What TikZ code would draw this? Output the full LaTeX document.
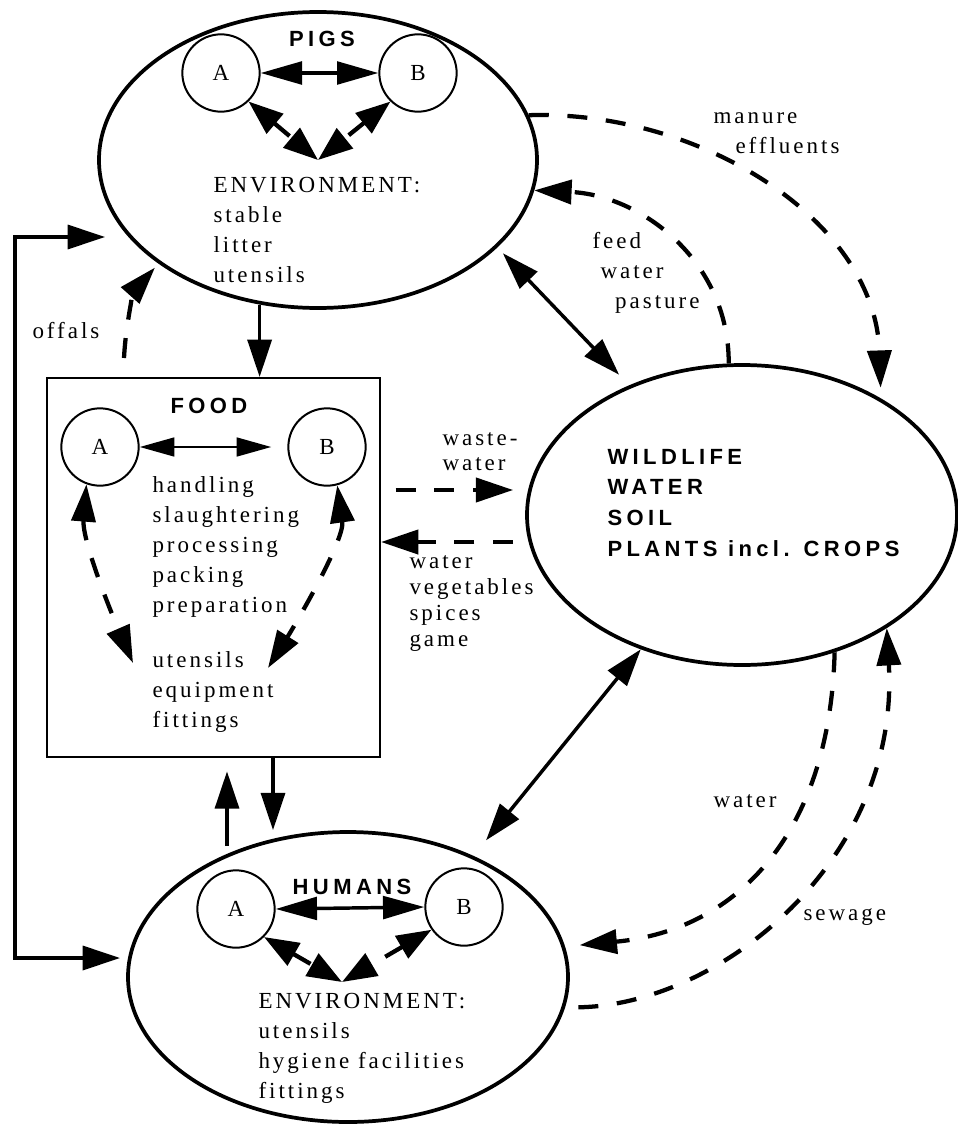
\documentclass[tikz,border=0pt]{standalone}
\usepackage{fontspec}
\setmainfont{Liberation Serif}
\newfontfamily\labfont[LetterSpace=13]{Liberation Serif}
\newfontfamily\headfont[LetterSpace=20]{Liberation Sans}
\usetikzlibrary{arrows.meta,shapes.geometric}

\tikzset{every picture/.style={line width=0.75pt},
  >={Triangle[length=28pt,width=18pt]},
  blobnode/.style={draw, ellipse, line width=2.8pt, inner sep=0pt},
  ringnode/.style={draw, circle, line width=1.5pt, minimum size=58pt, inner sep=0pt, font=\fontsize{17.25}{20}\selectfont},
  solidarr/.style={line width=2.6pt},
  dasharr/.style={line width=3.2pt, dash pattern=on 15pt off 14pt},
  innerarr/.style={dasharr, {Triangle[length=26pt,width=19pt]}-{Triangle[length=26pt,width=19pt]}},
  pairarr/.style={line width=2.6pt, {Triangle[length=31pt,width=17pt]}-{Triangle[length=31pt,width=17pt]}},
  labtext/.style={font=\labfont\fontsize{17.25}{22.5}\selectfont, inner sep=0pt, align=left, anchor=base west},
  headtext/.style={font=\headfont\bfseries\fontsize{16.5}{22.9}\selectfont, inner sep=0pt, align=left}
}

\begin{document}
\begin{tikzpicture}[x=0.75pt,y=0.75pt,yscale=-1,xscale=1]
\useasboundingbox (0,0) rectangle (957,1124);

%Shape: Ellipse [id:pigs]
\node[blobnode, minimum width=328.5pt, minimum height=222pt] (pigs) at (318,160) {};
%Shape: Circle [id:pa]
\node[ringnode] (pa) at (221,73) {A};
%Shape: Circle [id:pb]
\node[ringnode] (pb) at (418,73) {B};
% Text Node
\node[headtext] (pigst) at (322,39) {PIGS};
% Text Node (base = last line)
\node[labtext] (pigsenv) at (213,282) {ENVIRONMENT:\\stable\\litter\\utensils};

%Shape: Rectangle [id:food]
\node[draw, line width=1.5pt, minimum width=249.75pt, minimum height=284.25pt, inner sep=0pt] (food) at (213.5,567.5) {};
%Shape: Circle [id:fa]
\node[ringnode] (fa) at (100,447) {A};
%Shape: Circle [id:fb]
\node[ringnode] (fb) at (327,447) {B};
% Text Node
\node[headtext] (foodt) at (209,406) {FOOD};
% Text Node
\node[labtext] (steps) at (152,612) {handling\\slaughtering\\processing\\packing\\preparation};
% Text Node
\node[labtext] (tools) at (152,727) {utensils\\equipment\\fittings};

%Shape: Ellipse [id:wild]
\node[blobnode, minimum width=322.5pt, minimum height=225pt] (wild) at (742,515) {};
% Text Node
\node[headtext, anchor=base west] (wildt) at (607,556) {WILDLIFE\\WATER\\SOIL\\PLANTS incl. CROPS};

%Shape: Ellipse [id:hum]
\node[blobnode, minimum width=330pt, minimum height=217.5pt] (hum) at (348,977) {};
%Shape: Circle [id:ha]
\node[ringnode] (ha) at (236,909) {A};
%Shape: Circle [id:hb]
\node[ringnode] (hb) at (464,907) {B};
% Text Node
\node[headtext] (humt) at (352,887) {HUMANS};
% Text Node
\node[labtext] (humenv) at (258,1098) {ENVIRONMENT:\\utensils\\hygiene facilities\\fittings};

% Text Node
\node[labtext] (offals) at (32,338) {offals};
% Text Node
\node[labtext] (waste) at (442,470) {waste-\\[-4pt]water};
% Text Node
\node[labtext] (veg) at (409,646) {water\\[-3pt]vegetables\\[-3pt]spices\\[-3pt]game};
% Text Node
\node[labtext] (feed) at (592,308) {feed\\\hspace*{6pt}water\\\hspace*{17pt}pasture};
% Text Node
\node[labtext] (manure) at (713,153) {manure\\\hspace*{16.5pt}effluents};
% Text Node
\node[labtext] (waterl) at (713,807) {water};
% Text Node
\node[labtext] (sewage) at (803,920) {sewage};

% free ends
\coordinate (penv) at (318,160);
\coordinate (henv) at (342,982);
\coordinate (offal) at (124,358);
\coordinate (pigin) at (105,237);
\coordinate (humin) at (120,958);
\coordinate (loopx) at (15,600);
\coordinate (fu1) at (133,663);
\coordinate (fu2) at (268,668);
\coordinate (ww) at (395,490);
\coordinate (wv) at (515,542);
\coordinate (fd) at (273,800);
\coordinate (hu) at (227,846);

%Inside pigs
\draw[pairarr] (pa.east) -- (pb.west);
\draw[innerarr] (pa.-46) -- (penv);
\draw[innerarr] (pb.-134) -- (penv);

%Inside food
\draw[line width=2pt, {Triangle[length=26pt,width=14pt]}-{Triangle[length=26pt,width=14pt]}, shorten >=12pt] (fa.east) -- (fb.west);
\draw[dasharr, <->] (fa.-110) .. controls (82,540) and (110,610) .. (fu1);
\draw[dasharr, <->] (fb.-75) .. controls (345,540) and (295,625) .. (fu2);

%Inside humans
\draw[pairarr] (ha.east) -- (hb.west);
\draw[innerarr] (ha.-45) -- (henv);
\draw[innerarr] (hb.-145) -- (henv);

%Between the groups
\draw[solidarr, <->] (pigin) -| (loopx) |- (humin);
\draw[dasharr, ->, shorten >=4pt] (offal) .. controls (126,320) and (135,290) .. (pigs.-147);
\draw[solidarr, ->] (pigs.-112) -- (pigs.-112 |- food.north);
\draw[solidarr, ->] (food.south -| fd) -- (hum.north -| fd);
\draw[solidarr, ->, shorten >=10pt] (hu) -- (hu |- food.south);
\draw[dasharr, ->, shorten <=11pt, shorten >=9pt] (food.east |- ww) -- (ww -| wild.west);
\draw[dasharr, ->, shorten <=9pt] (wv -| wild.west) -- (wv -| food.east);
\draw[solidarr, <->, shorten <=6pt, shorten >=11pt] (pigs.-26) -- (wild.131);
\draw[dasharr, ->, shorten >=8pt] (pigs.12) .. controls (700,110) and (875,220) .. (wild.40);
\draw[dasharr, ->] (wild.95) .. controls (729,260) and (640,195) .. (pigs.-8);
\draw[solidarr, <->, shorten >=15pt] (wild.-127) -- (hum.44);
\draw[dasharr, ->, shorten >=11pt] (wild.-56) .. controls (830,830) and (740,930) .. (hum.8);
\draw[dasharr, ->, shorten <=10pt] (hum.-8) .. controls (720,1005) and (900,860) .. (wild.-38);

\end{tikzpicture}
\end{document}
